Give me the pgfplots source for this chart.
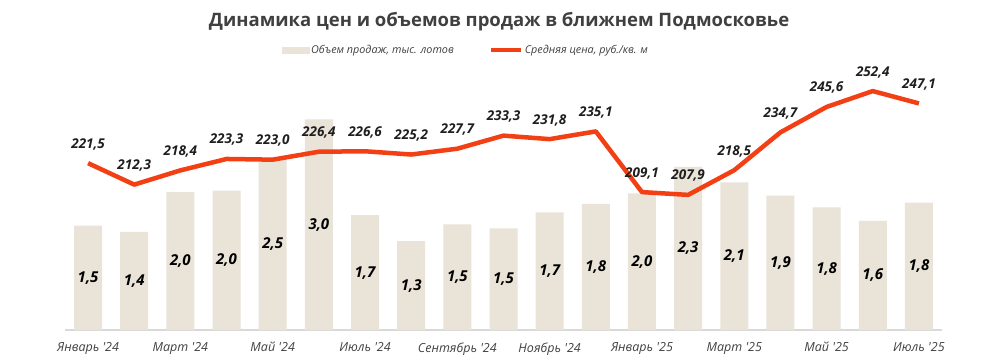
\documentclass[border=0pt]{standalone}
\usepackage{pgfplots}
\usepackage{pgfplotstable}
\pgfplotsset{compat=1.18}
\usepackage{fontspec}
\newfontfamily\cf{Open Sans}
\definecolor{beige}{RGB}{233,227,216}
\definecolor{redline}{RGB}{242,64,20}
\definecolor{txt}{RGB}{64,64,64}
\definecolor{lbl}{RGB}{30,30,30}

\pgfplotstableread{
x vol lab
0 1.49 1,5
1 1.40 1,4
2 1.97 2,0
3 1.99 2,0
4 2.45 2,5
5 3.01 3,0
6 1.64 1,7
7 1.27 1,3
8 1.51 1,5
9 1.45 1,5
10 1.68 1,7
11 1.80 1,8
12 1.95 2,0
13 2.33 2,3
14 2.11 2,1
15 1.92 1,9
16 1.75 1,8
17 1.56 1,6
18 1.82 1,8
}\voltable

\pgfplotstableread{
x price lab
0 221.5 221,5
1 212.3 212,3
2 218.4 218,4
3 223.3 223,3
4 223.0 223,0
5 226.4 226,4
6 226.6 226,6
7 225.2 225,2
8 227.7 227,7
9 233.3 233,3
10 231.8 231,8
11 235.1 235,1
12 209.1 209,1
13 207.9 207,9
14 218.5 218,5
15 234.7 234,7
16 245.6 245,6
17 252.4 252,4
18 247.1 247,1
}\pricetable

\begin{document}
\begin{tikzpicture}[font=\cf]
\path[use as bounding box] (0,0) rectangle (999bp,360bp);
\begin{axis}[
  at={(65bp,30bp)}, anchor=south west,
  width=877bp, height=280bp, scale only axis,
  xmin=-0.5, xmax=18.5, ymin=0, ymax=4,
  axis x line*=bottom, axis y line=none,
  x axis line style={-, draw=black!15, line width=1.3bp},
  xtick={0,2,...,18},
  xticklabels={Январь '24, Март '24, Май '24, Июль '24, Сентябрь '24, Ноябрь '24, Январь '25, Март '25, Май '25, Июль '25},
  xtick style={draw=none},
  xticklabel style={font=\cf\itshape\fontsize{12.5bp}{14bp}\selectfont, text=txt, yshift=-9bp},
  clip=false,
  title={Динамика цен и объемов продаж в ближнем Подмосковье},
  title style={at={(0.495,1)}, anchor=center, yshift=22bp, font=\cf\bfseries\fontsize{18.5bp}{22bp}\selectfont, text=txt},
]
\addplot[ybar, bar width=28bp, fill=beige, draw=none,
  point meta=explicit symbolic,
  nodes near coords,
  visualization depends on={y \as \rawy},
  every node near coord/.append style={anchor=center, yshift={-35.14*\rawy}, font=\cf\bfseries\itshape\fontsize{15bp}{17bp}\selectfont, text=black}
] table[x=x, y=vol, meta=lab] {\voltable};
\end{axis}
\begin{axis}[
  at={(65bp,30bp)}, anchor=south west,
  width=877bp, height=280bp, scale only axis,
  xmin=-0.5, xmax=18.5, ymin=150, ymax=270,
  hide axis, clip=false,
  legend columns=2,
  legend style={at={(0.457,1)}, anchor=center, draw=none, fill=none,
    font=\cf\itshape\fontsize{10.8bp}{13bp}\selectfont, text=txt,
    /tikz/every even column/.append style={column sep=34bp},
    nodes={inner sep=1.5bp}},
]
\addlegendimage{legend image code/.code={\fill[beige] (0bp,-3bp) rectangle (27bp,3bp);}}
\addlegendentry{Объем продаж, тыс. лотов}
\addplot[redline, line width=4.5bp, line join=round,
  legend image code/.code={\draw[redline, line width=4bp] (0bp,0bp) -- (30bp,0bp);},
  point meta=explicit symbolic,
  nodes near coords,
  every node near coord/.append style={anchor=center, yshift=19bp, font=\cf\bfseries\itshape\fontsize{13.5bp}{16bp}\selectfont, text=lbl}
] table[x=x, y=price, meta=lab] {\pricetable};
\addlegendentry{Средняя цена, руб./кв. м}
\end{axis}
\end{tikzpicture}
\end{document}
